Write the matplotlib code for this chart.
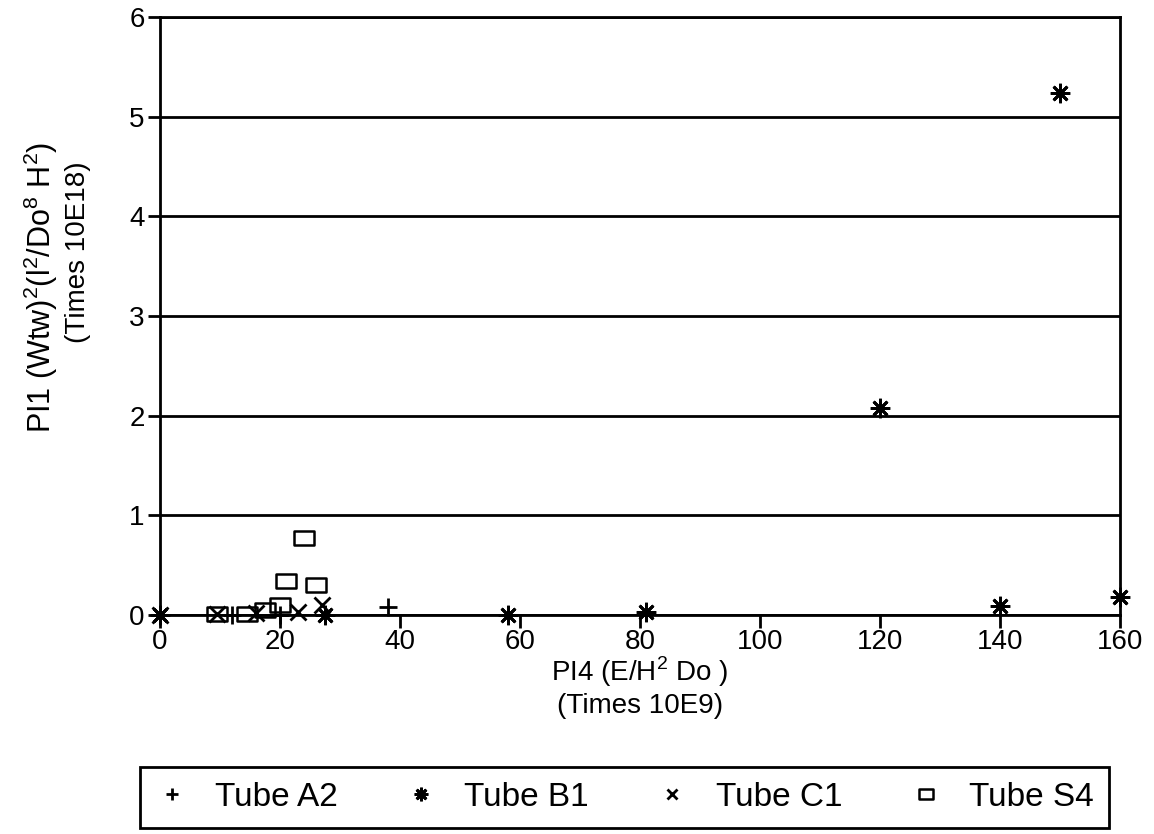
import matplotlib
matplotlib.use('Agg')
import matplotlib.pyplot as plt
from matplotlib.path import Path
import numpy as np

plt.rcParams['font.family'] = ['Liberation Sans', 'DejaVu Sans']
plt.rcParams['mathtext.fontset'] = 'custom'
plt.rcParams['mathtext.rm'] = 'Liberation Sans'

# Tube A2 (+)
a2_x = [12, 20, 38]
a2_y = [0.0, 0.0, 0.08]
# Tube B1 (asterisk)
b1_x = [0, 27.5, 58, 81, 120, 140, 150, 160]
b1_y = [0.0, 0.0, 0.0, 0.03, 2.08, 0.09, 5.24, 0.18]
# Tube C1 (x)
c1_x = [0, 9.5, 16, 23, 27]
c1_y = [0.0, 0.01, 0.02, 0.03, 0.1]
# Tube S4 (square)
s4_x = [9.5, 14.5, 17.5, 20, 21, 26, 24]
s4_y = [0.01, 0.01, 0.05, 0.1, 0.34, 0.3, 0.77]

x_ticks = [0, 20, 40, 60, 80, 100, 120, 140, 160]
y_ticks = [0, 1, 2, 3, 4, 5, 6]

# wide rectangle marker like the original
rect = Path([(-1.3, -1), (1.3, -1), (1.3, 1), (-1.3, 1), (-1.3, -1)],
            [Path.MOVETO, Path.LINETO, Path.LINETO, Path.LINETO, Path.CLOSEPOLY])

fig = plt.figure(figsize=(11.54, 8.34), dpi=100)
ax = fig.add_axes([0.1386, 0.2626, 0.8319, 0.7170])

ax.plot(a2_x, a2_y, linestyle='none', marker='+', markersize=13,
        markeredgewidth=2, color='black', label='Tube A2', clip_on=False)
ax.plot(b1_x, b1_y, linestyle='none', marker=(8, 2, 0), markersize=14,
        markeredgewidth=2, color='black', label='Tube B1', clip_on=False)
ax.plot(c1_x, c1_y, linestyle='none', marker='x', markersize=11,
        markeredgewidth=2, color='black', label='Tube C1', clip_on=False)
ax.plot(s4_x, s4_y, linestyle='none', marker=rect, markersize=14,
        markeredgewidth=1.8, markerfacecolor='none', color='black',
        label='Tube S4', clip_on=False)

ax.set_xlim(0, 160)
ax.set_ylim(0, 6)
ax.set_xticks(x_ticks)
ax.set_yticks(y_ticks)
ax.yaxis.grid(True, color='black', linewidth=2)
ax.set_axisbelow(True)
for s in ax.spines.values():
    s.set_linewidth(2)
ax.tick_params(axis='both', labelsize=20, width=2, length=9, direction='out')
ax.tick_params(axis='y', pad=2)
ax.tick_params(axis='x', pad=1)

ax.set_xlabel('PI4 (E/H$^{2}$ Do )\n(Times 10E9)', fontsize=20, labelpad=0,
              linespacing=1.2)

# y label: two rotated lines, offset like the original
fig.text(0.035, 0.656, 'PI1 (Wtw)$^{2}$(l$^{2}$/Do$^{8}$ H$^{2}$)', fontsize=22,
         rotation=90, ha='center', va='center')
fig.text(0.0676, 0.698, '(Times 10E18)', fontsize=20,
         rotation=90, ha='center', va='center')

leg = ax.legend(loc='center', bbox_to_anchor=(-0.0208, -0.3595, 1.009, 0.110),
                mode='expand', ncol=4, fontsize=24, frameon=True,
                fancybox=False, edgecolor='black', framealpha=1,
                borderpad=0.45, handlelength=1.0, handletextpad=0.8,
                columnspacing=1.2, markerscale=0.7, borderaxespad=0)
leg.get_frame().set_linewidth(2)

plt.savefig('out.png', dpi=100)
